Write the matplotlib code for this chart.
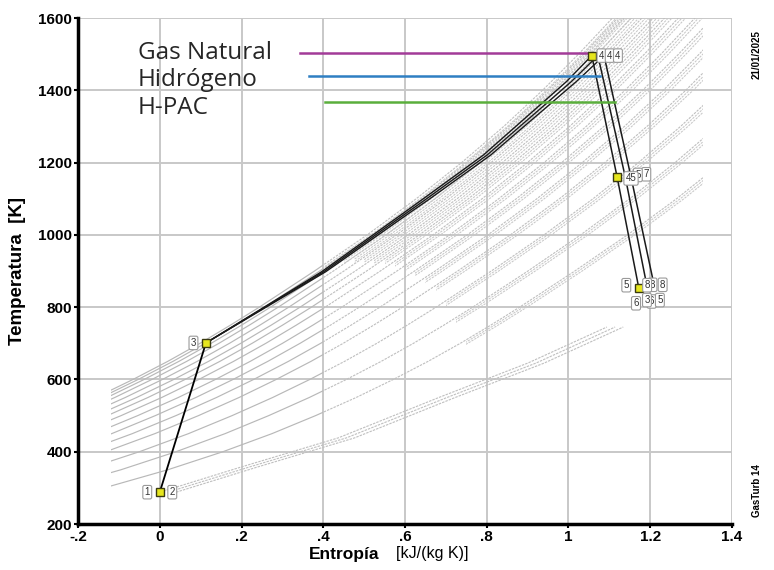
import matplotlib
matplotlib.use('Agg')
import matplotlib.pyplot as plt
from matplotlib.patches import Rectangle
import numpy as np

# reference isobar shape (T in K, s in kJ/(kg K)), s = 0 at ambient 288 K
ref_T = [250, 300, 350, 400, 450, 500, 550, 600, 650, 700, 750, 800,
         900, 1000, 1100, 1200, 1300, 1400, 1500, 1600, 1700]
ref_s = [-0.138, 0.045, 0.200, 0.335, 0.455, 0.562, 0.661, 0.752, 0.837,
         0.916, 0.990, 1.061, 1.196, 1.325, 1.445, 1.556, 1.659, 1.754,
         1.842, 1.925, 2.003]

# isobars: temperature where each one leaves the left edge (s = -0.12)
isobar_T_left = [305, 342, 374, 405, 428, 449, 469, 488, 504, 518, 532,
                 545, 555, 563, 570]
# the other two cycles repeat the isobars slightly shifted in entropy
cycle_shift = [0.009, 0.018]

# ambient isobar (starts at point 1)
amb_s = [0.0, 0.2, 0.436, 0.685, 0.9, 1.094]
amb_T = [288, 358, 438, 551, 645, 745]
amb_shift = [0.0, 0.02, 0.04]

# compression 1-2-3 (common to all cycles)
comp_s = [0.0, 0.0, 0.113]
comp_T = [288, 288, 701]

# heat addition 3-4 for each cycle
heat_s = [[0.113, 0.343, 0.396, 0.596, 0.640, 0.792, 0.995, 1.057],
          [0.113, 0.347, 0.401, 0.603, 0.648, 0.801, 1.007, 1.072],
          [0.113, 0.351, 0.406, 0.610, 0.656, 0.810, 1.019, 1.087]]
heat_T = [701, 861, 898, 1060, 1096, 1221, 1424, 1496]

# expansion 4-45-8 for each cycle
exp_s = [[1.057, 1.119, 1.172],
         [1.072, 1.139, 1.192],
         [1.087, 1.153, 1.210]]
exp_T = [[1496, 1160, 853],
         [1496, 1160, 858],
         [1496, 1160, 858]]

# fuel reference lines
fuels = ['Gas Natural', 'Hidrógeno', 'H-PAC']
fuel_T = [1503, 1440, 1368]
fuel_s0 = [0.343, 0.365, 0.404]
fuel_s1 = [1.057, 1.077, 1.114]
fuel_colors = ['#a23b98', '#2e7fc2', '#5aae3c']

xticks = [-0.2, 0, 0.2, 0.4, 0.6, 0.8, 1.0, 1.2, 1.4]
xticklabels = ['-.2', '0', '.2', '.4', '.6', '.8', '1', '1.2', '1.4']
yticks = [200, 400, 600, 800, 1000, 1200, 1400, 1600]

plt.rcParams['font.family'] = ['Liberation Sans', 'DejaVu Sans']

fig = plt.figure(figsize=(7.74, 5.70), dpi=100)
ax = fig.add_axes([0.1008, 0.0807, 0.8449, 0.8877])
ax.set_xlim(-0.2, 1.4)
ax.set_ylim(200, 1600)

grey = '#bfbfbf'
split = 0.40


def clip_rect(s0, s1):
    return Rectangle((s0, 200), s1 - s0, 1400, transform=ax.transData)


ref_T_arr = np.array(ref_T, dtype=float)
ref_s_arr = np.array(ref_s)
for k, tl in enumerate(isobar_T_left):
    shift = np.interp(tl, ref_T_arr, ref_s_arr) + 0.12
    s = ref_s_arr - shift
    l1, = ax.plot(s, ref_T_arr, color='#b8b8b8', lw=0.85, zorder=1)
    l1.set_clip_path(clip_rect(-0.12, split))
    l2, = ax.plot(s, ref_T_arr, color=grey, lw=0.8, ls=(0, (2.2, 1)),
                  zorder=1)
    l2.set_clip_path(clip_rect(split, 1.33))
    # copies of the other cycles fade in further right (staggered)
    start = 0.75 - 0.025 * k
    for cs in cycle_shift:
        l3, = ax.plot(s + cs, ref_T_arr, color='#c8c8c8', lw=0.75,
                      ls=(0, (2.2, 1)), zorder=1)
        l3.set_clip_path(clip_rect(start, 1.33))

for sh in amb_shift:
    ax.plot(np.array(amb_s) + sh, amb_T, color=grey, lw=0.8,
            ls=(0, (2.2, 1)), zorder=1)

ax.grid(True, color='#c8c8c8', lw=1.4, zorder=0)
ax.set_axisbelow(True)

# cycle lines
ax.plot(comp_s, comp_T, color='black', lw=1.3, zorder=4)
for i in range(3):
    ax.plot(heat_s[i], heat_T, color='#1a1a1a', lw=1.0, zorder=4)
    ax.plot(exp_s[i], exp_T[i], color='#1a1a1a', lw=1.1, zorder=4)

# station markers of the selected cycle
mk_s = [comp_s[0], comp_s[2], exp_s[0][0], exp_s[0][1], exp_s[0][2]]
mk_T = [comp_T[0], comp_T[2], exp_T[0][0], exp_T[0][1], exp_T[0][2]]
ax.plot(mk_s, mk_T, ls='none', marker='s', ms=6, mfc='#e6e61e',
        mec='#3a3a10', mew=1.0, zorder=6)

box = dict(boxstyle='round,pad=0.18', fc='white', ec='#9a9a9a', lw=0.8)


def tag(txt, s, T, dx, dy):
    ax.annotate(txt, (s, T), xytext=(dx, dy), textcoords='offset points',
                ha='center', va='center', fontsize=7, color='#333333',
                bbox=box, zorder=7)


tag('1', comp_s[0], comp_T[0], -9, 0)
tag('2', comp_s[1], comp_T[1], 9, 0)
tag('3', comp_s[2], comp_T[2], -9, 0)
for i in range(3):
    tag('4', exp_s[i][0], exp_T[i][0], 7 + 1.5 * i, 0)
tag('7', exp_s[2][1], exp_T[2][1], 11, 2)
tag('5', exp_s[1][1], exp_T[1][1], 9, 1.5)
tag('45', exp_s[0][1], exp_T[0][1], 10, -1)
tag('6', exp_s[2][2], exp_T[2][2], -2, -11)
tag('5', exp_s[2][2], exp_T[2][2], 4, -10)
tag('3', exp_s[1][2], exp_T[1][2], 0, -10)
tag('8', exp_s[2][2], exp_T[2][2], 6, 1)
tag('8', exp_s[1][2], exp_T[1][2], 4, 1)
tag('6', exp_s[0][2], exp_T[0][2], -2, -11)
tag('8', exp_s[0][2], exp_T[0][2], 6, 2)
tag('5', exp_s[0][2], exp_T[0][2], -9, 2)

# fuel reference lines and their names
for i in range(3):
    ax.plot([fuel_s0[i], fuel_s1[i]], [fuel_T[i], fuel_T[i]],
            color=fuel_colors[i], lw=1.8, zorder=5)
label_y = [0.931, 0.877, 0.822]
for i in range(3):
    ax.text(0.0917, label_y[i], fuels[i], transform=ax.transAxes,
            fontsize=17.5, family=['Open Sans', 'DejaVu Sans'],
            ha='left', va='center', color='#262626')

ax.set_xticks(xticks)
ax.set_xticklabels(xticklabels)
ax.set_yticks(yticks)
for lab in ax.get_xticklabels() + ax.get_yticklabels():
    lab.set_fontweight('bold')
    lab.set_fontsize(11)
ax.tick_params(direction='out', length=3, width=1.5, pad=1.5)

for side in ['top', 'right']:
    ax.spines[side].set_visible(False)
for side in ['left', 'bottom']:
    ax.spines[side].set_linewidth(2.5)
    ax.spines[side].set_zorder(8)

fig.text(0.444, 0.027, 'Entropía', ha='center', va='center',
         fontsize=12.5, fontweight='bold')
fig.text(0.558, 0.029, '[kJ/(kg K)]', ha='center', va='center',
         fontsize=11.5)
fig.text(0.023, 0.525, 'Temperatura  [K]', rotation=90, ha='center',
         va='center', fontsize=13.5, fontweight='bold')
fig.text(0.978, 0.905, '21/01/2025', rotation=90, ha='center',
         va='center', fontsize=7, fontweight='bold')
fig.text(0.978, 0.14, 'GasTurb 14', rotation=90, ha='center',
         va='center', fontsize=7, fontweight='bold')

plt.savefig('out.png', dpi=100)
